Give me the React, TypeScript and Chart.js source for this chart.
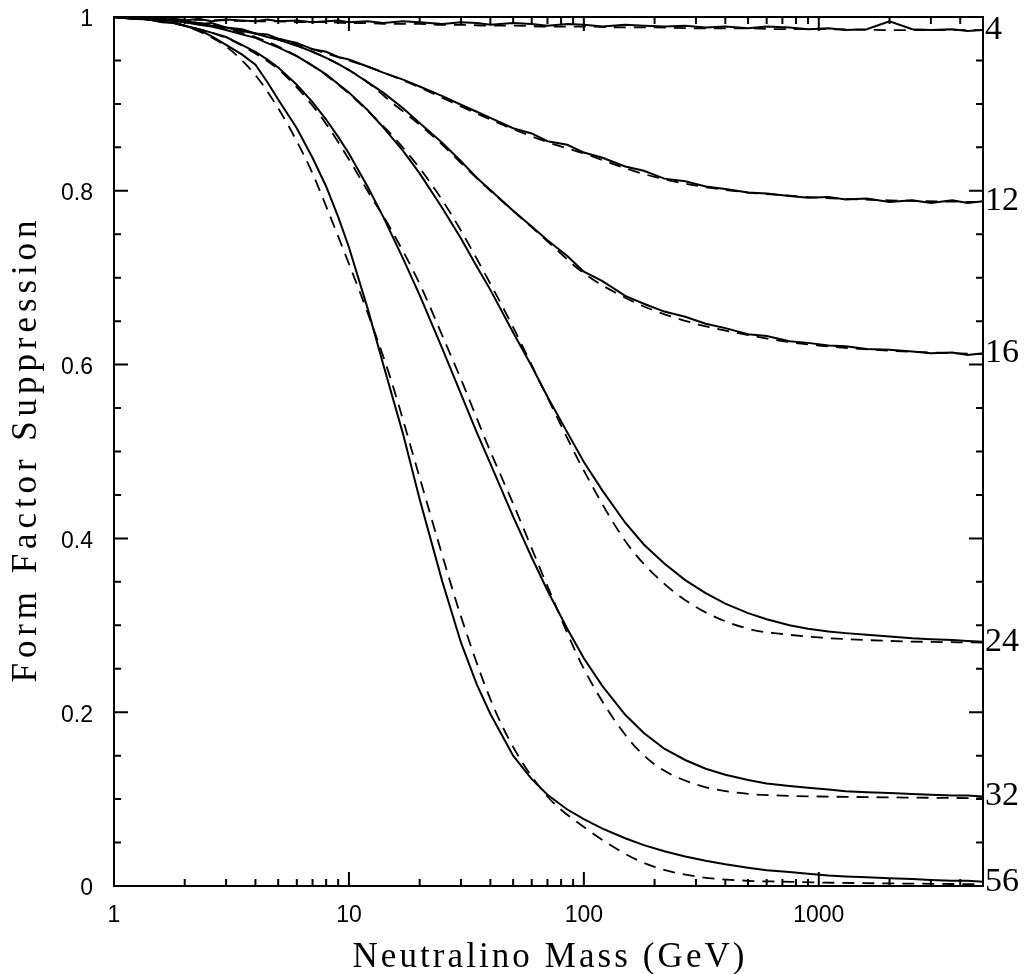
import React, { useEffect, useRef } from 'react';
import { Chart, registerables } from 'chart.js';

Chart.register(...registerables);

// Neutralino masses (GeV) for the Monte Carlo curves and the analytic curves
const massFine = [
  1, 1.2, 1.4, 1.6, 1.8, 2, 2.3, 2.6, 3, 3.5, 4, 4.5, 5, 6, 7, 8, 9, 10, 12, 14,
  17, 20, 25, 30, 35, 40, 50, 60, 70, 85, 100, 120, 150, 180, 220, 270, 330, 400,
  500, 600, 750, 900, 1100, 1300, 1600, 2000, 2500, 3000, 3700, 4300, 5000,
];
const massCoarse = [
  1, 1.5, 2, 3, 4, 5, 6, 7, 8, 10, 12, 15, 20, 25, 30, 40, 50, 70, 100, 150, 200,
  300, 500, 700, 1000, 2000, 5000,
];

// Nuclear mass numbers, written at the right-hand end of each pair of curves
const nucleusLabels = ['4', '12', '16', '24', '32', '56'];

// Monte Carlo suppression (solid)
const solidA4 = [
  1.0, 0.998, 0.999, 0.997, 0.998, 0.996, 0.998, 0.995, 0.997, 0.996,
  0.995, 0.997, 0.995, 0.996, 0.994, 0.995, 0.996, 0.994, 0.995, 0.993,
  0.995, 0.994, 0.992, 0.994, 0.993, 0.991, 0.993, 0.992, 0.99, 0.992,
  0.991, 0.989, 0.991, 0.99, 0.989, 0.99, 0.988, 0.989, 0.987, 0.989,
  0.988, 0.986, 0.987, 0.985, 0.986, 0.995, 0.986, 0.985, 0.986, 0.984,
  0.985,
];
const solidA12 = [
  1.0, 0.999, 0.997, 0.998, 0.995, 0.996, 0.992, 0.993, 0.988, 0.986,
  0.981, 0.98, 0.975, 0.97, 0.963, 0.96, 0.954, 0.951, 0.943, 0.936,
  0.928, 0.92, 0.909, 0.899, 0.891, 0.884, 0.872, 0.866, 0.857, 0.853,
  0.844, 0.838, 0.828, 0.823, 0.814, 0.811, 0.805, 0.802, 0.798, 0.797,
  0.794, 0.792, 0.793, 0.79, 0.791, 0.787, 0.789, 0.786, 0.789, 0.786,
  0.788,
];
const solidA16 = [
  1.0, 0.998, 0.999, 0.996, 0.997, 0.994, 0.993, 0.99, 0.988, 0.984,
  0.981, 0.977, 0.974, 0.967, 0.96, 0.953, 0.946, 0.939, 0.925, 0.913,
  0.895, 0.878, 0.855, 0.834, 0.815, 0.801, 0.777, 0.759, 0.743, 0.725,
  0.707, 0.696, 0.679, 0.67, 0.661, 0.655, 0.647, 0.642, 0.635, 0.633,
  0.627, 0.625, 0.622, 0.621, 0.618, 0.617, 0.615, 0.613, 0.614, 0.611,
  0.613,
];
const solidA24 = [
  1.0, 0.999, 0.997, 0.998, 0.995, 0.994, 0.991, 0.989, 0.985, 0.98,
  0.976, 0.97, 0.965, 0.955, 0.944, 0.934, 0.923, 0.913, 0.893, 0.873,
  0.846, 0.82, 0.78, 0.745, 0.713, 0.686, 0.637, 0.598, 0.563, 0.522,
  0.488, 0.455, 0.418, 0.393, 0.371, 0.352, 0.337, 0.325, 0.314, 0.307,
  0.3, 0.296, 0.293, 0.291, 0.289, 0.287, 0.285, 0.284, 0.283, 0.282,
  0.281,
];
const solidA32 = [
  1.0, 0.998, 0.997, 0.994, 0.993, 0.99, 0.986, 0.982, 0.977, 0.968,
  0.96, 0.951, 0.942, 0.922, 0.902, 0.882, 0.862, 0.843, 0.805, 0.77,
  0.722, 0.68, 0.618, 0.566, 0.522, 0.486, 0.425, 0.378, 0.34, 0.296,
  0.262, 0.23, 0.197, 0.176, 0.158, 0.145, 0.135, 0.128, 0.122, 0.118,
  0.115, 0.113, 0.111, 0.109, 0.108, 0.107, 0.106, 0.105, 0.104, 0.104,
  0.103,
];
const solidA56 = [
  1.0, 0.999, 0.997, 0.995, 0.993, 0.99, 0.985, 0.978, 0.968, 0.957,
  0.945, 0.925, 0.905, 0.872, 0.838, 0.805, 0.77, 0.735, 0.665, 0.6,
  0.52, 0.445, 0.35, 0.28, 0.232, 0.198, 0.15, 0.123, 0.105, 0.088,
  0.077, 0.066, 0.055, 0.047, 0.04, 0.034, 0.029, 0.025, 0.021, 0.018,
  0.016, 0.014, 0.012, 0.011, 0.01, 0.009, 0.008, 0.007, 0.006, 0.006,
  0.005,
];

// Analytic approximation (dashed)
const dashedA4 = [
  1.0, 0.998, 0.997, 0.996, 0.995, 0.995, 0.994, 0.994, 0.994, 0.993,
  0.993, 0.992, 0.992, 0.991, 0.991, 0.99, 0.99, 0.989, 0.989, 0.988,
  0.988, 0.987, 0.987, 0.986, 0.986, 0.985, 0.985,
];
const dashedA12 = [
  1.0, 0.997, 0.995, 0.988, 0.981, 0.975, 0.969, 0.963, 0.958, 0.95,
  0.943, 0.933, 0.919, 0.907, 0.897, 0.882, 0.871, 0.856, 0.843, 0.826,
  0.816, 0.806, 0.798, 0.795, 0.792, 0.789, 0.787,
];
const dashedA16 = [
  1.0, 0.998, 0.995, 0.988, 0.981, 0.974, 0.967, 0.96, 0.953, 0.939,
  0.925, 0.903, 0.876, 0.853, 0.832, 0.8, 0.777, 0.742, 0.705, 0.677,
  0.662, 0.647, 0.634, 0.627, 0.622, 0.616, 0.612,
];
const dashedA24 = [
  1.0, 0.999, 0.995, 0.986, 0.977, 0.966, 0.955, 0.944, 0.933, 0.912,
  0.892, 0.866, 0.826, 0.789, 0.754, 0.693, 0.643, 0.562, 0.478, 0.397,
  0.358, 0.321, 0.296, 0.29, 0.286, 0.282, 0.28,
];
const dashedA32 = [
  1.0, 0.997, 0.99, 0.976, 0.958, 0.94, 0.919, 0.898, 0.877, 0.836,
  0.8, 0.757, 0.693, 0.633, 0.583, 0.5, 0.44, 0.345, 0.25, 0.174,
  0.14, 0.117, 0.106, 0.104, 0.103, 0.102, 0.101,
];
const dashedA56 = [
  1.0, 0.998, 0.99, 0.966, 0.933, 0.895, 0.857, 0.82, 0.782, 0.716,
  0.66, 0.585, 0.47, 0.38, 0.31, 0.215, 0.16, 0.103, 0.068, 0.037,
  0.022, 0.011, 0.006, 0.005, 0.004, 0.003, 0.002,
];

const solidSeries = [solidA4, solidA12, solidA16, solidA24, solidA32, solidA56];
const dashedSeries = [dashedA4, dashedA12, dashedA16, dashedA24, dashedA32, dashedA56];

// Axis ticks
const xDecades = [1, 10, 100, 1000];
const xMinorMultipliers = [2, 3, 4, 5, 6, 7, 8, 9];
const yStepMajor = 0.2;
const yStepMinor = 0.05;
const xTitle = 'Neutralino Mass (GeV)';
const yTitle = 'Form Factor Suppression';

const SERIF = '"Liberation Serif", "Times New Roman", serif';
const SANS = '"Liberation Sans", Arial, sans-serif';

const toPoints = (xs: number[], ys: number[]) => xs.map((x, i) => ({ x, y: ys[i] }));

// Draws text with letter spacing so that it spans the requested width
function drawSpread(ctx: CanvasRenderingContext2D, text: string, cx: number, cy: number, width: number) {
  (ctx as any).letterSpacing = '0px';
  const natural = ctx.measureText(text).width;
  const sp = (width - natural) / (text.length - 1);
  (ctx as any).letterSpacing = `${sp}px`;
  ctx.textAlign = 'left';
  ctx.fillText(text, cx - width / 2, cy);
  (ctx as any).letterSpacing = '0px';
}

const frameAndLabels = {
  id: 'frameAndLabels',
  afterDatasetsDraw(chart: any) {
    const { ctx, chartArea: a, scales } = chart;
    const xs = scales.x;
    const ys = scales.y;
    ctx.save();
    ctx.strokeStyle = '#000';
    ctx.lineWidth = 2;
    ctx.strokeRect(a.left, a.top, a.right - a.left, a.bottom - a.top);
    ctx.beginPath();
    for (const d of xDecades) {
      const values = [d, ...xMinorMultipliers.map((k) => k * d)];
      values.forEach((v, i) => {
        if (v > xs.max) return;
        const px = xs.getPixelForValue(v);
        const len = i === 0 ? 14 : 7;
        ctx.moveTo(px, a.bottom);
        ctx.lineTo(px, a.bottom - len);
        ctx.moveTo(px, a.top);
        ctx.lineTo(px, a.top + len);
      });
    }
    const nMinor = Math.round((ys.max - ys.min) / yStepMinor);
    const ratio = Math.round(yStepMajor / yStepMinor);
    for (let i = 0; i <= nMinor; i++) {
      const py = ys.getPixelForValue(ys.min + i * yStepMinor);
      const len = i % ratio === 0 ? 14 : 7;
      ctx.moveTo(a.left, py);
      ctx.lineTo(a.left + len, py);
      ctx.moveTo(a.right, py);
      ctx.lineTo(a.right - len, py);
    }
    ctx.stroke();
    ctx.restore();
  },
  afterDraw(chart: any) {
    const { ctx, chartArea: a } = chart;
    ctx.save();
    ctx.fillStyle = '#000';
    // Mass-number labels at the end of the solid curves
    ctx.font = `34px ${SERIF}`;
    ctx.textAlign = 'left';
    ctx.textBaseline = 'middle';
    nucleusLabels.forEach((lab, i) => {
      const meta = chart.getDatasetMeta(i * 2);
      const last = meta.data[meta.data.length - 1];
      ctx.fillText(lab, a.right + 2, last.y);
    });
    // Axis titles
    ctx.font = `35px ${SERIF}`;
    ctx.textBaseline = 'alphabetic';
    drawSpread(ctx, xTitle, (a.left + a.right) / 2, 967, 392);
    ctx.translate(36, (a.top + a.bottom) / 2);
    ctx.rotate(-Math.PI / 2);
    drawSpread(ctx, yTitle, 0, 0, 462);
    ctx.restore();
  },
};

export default function App() {
  const canvasRef = useRef<HTMLCanvasElement | null>(null);

  useEffect(() => {
    if (!canvasRef.current) return;
    const datasets: any[] = [];
    solidSeries.forEach((ys, i) => {
      datasets.push({
        label: `A=${nucleusLabels[i]} Monte Carlo`,
        data: toPoints(massFine, ys),
        borderColor: '#000',
        borderWidth: 2,
        pointRadius: 0,
        tension: 0,
        fill: false,
      });
      datasets.push({
        label: `A=${nucleusLabels[i]} analytic`,
        data: toPoints(massCoarse, dashedSeries[i]),
        borderColor: '#000',
        borderWidth: 1.8,
        borderDash: [12, 8],
        pointRadius: 0,
        cubicInterpolationMode: 'monotone',
        fill: false,
      });
    });

    const chart = new Chart(canvasRef.current, {
      type: 'line',
      data: { datasets },
      options: {
        responsive: false,
        animation: false,
        parsing: true,
        layout: { padding: { left: 0, top: 17, right: 43, bottom: 0 } },
        plugins: { legend: { display: false }, tooltip: { enabled: false } },
        scales: {
          x: {
            type: 'logarithmic',
            min: 1,
            max: 5000,
            grid: { display: false, drawTicks: false },
            border: { display: false },
            afterBuildTicks: (scale: any) => {
              scale.ticks = xDecades.map((v) => ({ value: v }));
            },
            afterFit: (scale: any) => {
              scale.height = 88;
              scale.paddingLeft = 0;
              scale.paddingRight = 0;
            },
            ticks: {
              padding: 16,
              maxRotation: 0,
              autoSkip: false,
              color: '#000',
              font: { family: SANS, size: 23 },
              callback: (v: any) => String(v),
            },
          },
          y: {
            min: 0,
            max: 1,
            grid: { display: false, drawTicks: false },
            border: { display: false },
            afterFit: (scale: any) => {
              scale.width = 114;
              scale.paddingTop = 0;
              scale.paddingBottom = 0;
            },
            ticks: {
              stepSize: yStepMajor,
              padding: 21,
              labelOffset: 3,
              color: '#000',
              font: { family: SANS, size: 23 },
              callback: (v: any) => String(Number(v)),
            },
          },
        },
      },
      plugins: [frameAndLabels],
    });
    return () => chart.destroy();
  }, []);

  return (
    <div style={{ position: 'absolute', left: 0, top: 0, width: 1026, height: 974, background: '#fff' }}>
      <canvas ref={canvasRef} width={1026} height={974} style={{ display: 'block' }} />
    </div>
  );
}
